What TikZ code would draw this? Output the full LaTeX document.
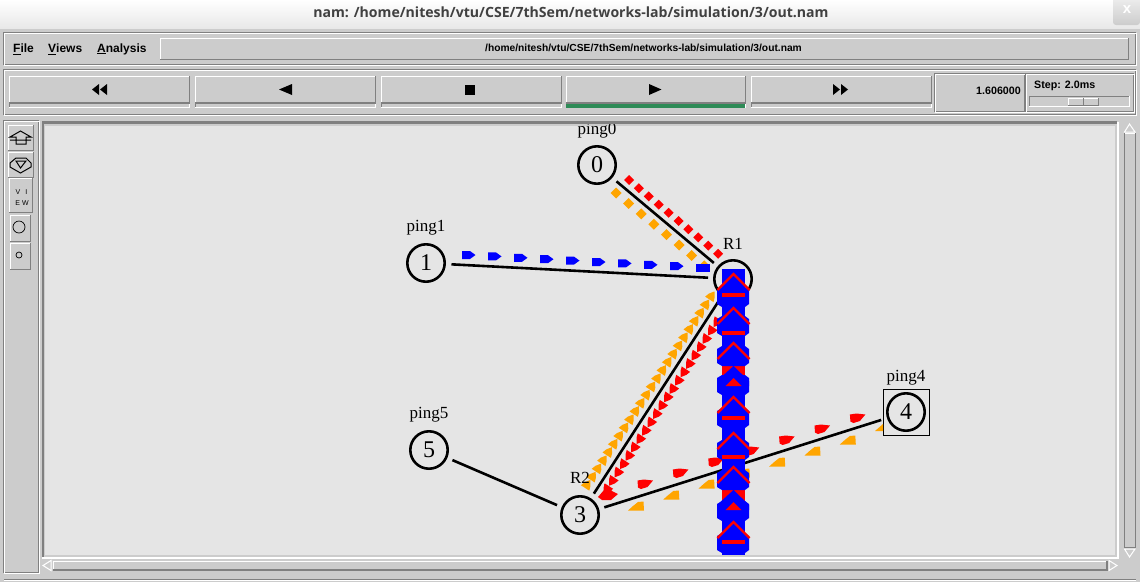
\documentclass[tikz,border=0pt]{standalone}
\usepackage{fontspec}
\setmainfont{Liberation Serif}
\newfontfamily\uifont{Liberation Sans}
\newfontfamily\titlefont{Open Sans}
\definecolor{winbg}{HTML}{CCCCCC}
\definecolor{canvasbg}{HTML}{E5E5E5}
\definecolor{edgegray}{HTML}{808080}
\definecolor{pktorange}{HTML}{FFA500}
\definecolor{playgreen}{HTML}{2E8B57}
\tikzset{
	raised/.style={draw=white, line width=1pt, fill=winbg},
	grayline/.style={draw=edgegray, line width=1pt},
	netnode/.style={circle, draw, line width=2.6pt, minimum size=37.4pt, inner sep=0pt, font=\fontsize{24}{24}\selectfont},
	netlabel/.style={font=\fontsize{17}{17}\selectfont, inner sep=0pt},
	link/.style={line width=2.6pt, shorten >=5pt, shorten <=5.5pt},
	uilabel/.style={font=\uifont\bfseries\fontsize{12}{12}\selectfont, inner sep=0pt},
	smalllabel/.style={font=\uifont\bfseries\fontsize{10.7}{10.7}\selectfont, inner sep=0pt},
	viewlabel/.style={font=\uifont\fontsize{7}{7}\selectfont, inner sep=0pt},
}
% one raised push button with its grey lower edge
\newcommand{\pushbutton}[4]{
	\draw[raised] (#1,#2) rectangle (#3,#4);
	\draw[grayline] (#1,#4) -- (#3,#4) -- (#3,#2);
}
% an etched frame, grey line with a white one inside
\newcommand{\groove}[4]{
	\draw[grayline] (#1,#2) rectangle (#3,#4);
	\draw[white, line width=1pt] (#1+1,#2+1) rectangle (#3+1,#4+1);
	\draw[grayline] (#1,#2) -- (#3,#2) (#1,#2) -- (#1,#4);
}
\newcommand{\diamondpkt}[1]{(-#1,0) -- (0,-#1) -- (#1,0) -- (0,#1) -- cycle}
\newcommand{\headpkt}{(-3.5,-5) -- (1,-3.5) -- (6,0) -- (1,3.5) -- (-3.5,5) -- cycle}
\begin{document}
\begin{tikzpicture}[x=1pt, y=-1pt]
	\useasboundingbox (0,0) rectangle (1140,582);
	\fill[winbg] (0,0) rectangle (1140,582);
	\shade[top color=white, bottom color=black!9] (0,0) rectangle (1140,28);
	\shade[top color=black!6, bottom color=black!20, rounded corners=3pt] (1113,-4) rectangle (1140,25);
	\node[font=\uifont\bfseries\fontsize{15}{15}\selectfont, text=white, inner sep=0pt] (closex) at (1127,10) {x};
	\node[font=\titlefont\bfseries\fontsize{14.1}{14.1}\selectfont, text=black!75, inner sep=0pt] (title) at (571,12) {nam: /home/nitesh/vtu/CSE/7thSem/networks-lab/simulation/3/out.nam};
	% menu row
	\groove{3}{32}{1135}{64}
	\pushbutton{160}{38}{1128}{59}
	\node[uilabel, anchor=west] (file) at (13,49) {\underline{F}ile};
	\node[uilabel, anchor=west] (views) at (48,49) {\underline{V}iews};
	\node[uilabel, anchor=west] (analysis) at (97,49) {\underline{A}nalysis};
	\node[font=\uifont\bfseries\fontsize{10.25}{10.25}\selectfont, inner sep=0pt] (path) at (643.5,48) {/home/nitesh/vtu/CSE/7thSem/networks-lab/simulation/3/out.nam};
	% transport row
	\groove{3}{69}{1135}{114}
	\foreach \bx/\ex in {9/189, 195/375, 381/561, 566/745, 751/931} {
		\pushbutton{\bx}{76}{\ex}{103}
		\draw[edgegray, line width=2pt] (\bx,103) -- (\ex,103);
		\draw[white, line width=1pt] (\bx,107) -- (\ex,107) -- (\ex,104);
		\draw[grayline] (\bx,103) -- (\bx,107);
	}
	\fill[playgreen] (566,104) rectangle (745,107.5);
	\fill (99,84) -- (99,95) -- (92,89.5) -- cycle (107,84) -- (107,95) -- (100,89.5) -- cycle;
	\fill (292,84) -- (292,95) -- (279,89.5) -- cycle;
	\fill (465,85) rectangle (475,95);
	\fill (649,84) -- (649,95) -- (661.5,89.5) -- cycle;
	\fill (833,84) -- (833,95) -- (840,89.5) -- cycle (841,84) -- (841,95) -- (848,89.5) -- cycle;
	\groove{934}{73}{1024}{111}
	\groove{1025}{73}{1133}{111}
	\node[smalllabel, anchor=east] (clock) at (1021,91) {1.606000};
	\node[smalllabel, anchor=west] (stepsize) at (1034,86) {Step: 2.0ms};
	\draw[grayline] (1029,96) -- (1029,106) (1029,96) -- (1129,96);
	\draw[white, line width=1pt] (1029,106) -- (1129,106) -- (1129,96);
	\pushbutton{1068}{98}{1098}{105}
	\draw[grayline] (1083,98) -- (1083,105);
	% left tools
	\groove{3}{120}{38}{572}
	\pushbutton{8}{125}{33}{150}
	\pushbutton{8}{152}{33}{177}
	\pushbutton{9}{178}{32}{212}
	\pushbutton{10}{215}{30}{241}
	\pushbutton{10}{243}{30}{269}
	\draw[line width=1pt] (20.5,131) -- (10,137) -- (16,137) -- (16,144) -- (26,144) -- (26,137) -- (31,137) -- cycle (10,140) -- (31,140);
	\draw[line width=1pt] (10,163) -- (16,158) -- (26,158) -- (31,163) -- (31,167) -- (20.5,173) -- (10,167) -- cycle (16,161) -- (26,161) -- (20.5,168) -- cycle;
	\node[viewlabel] (viewa) at (21.5,192) {V\hspace{5pt}I};
	\node[viewlabel] (viewb) at (22,203) {E\hspace{2pt}W};
	\draw[line width=.7pt] (19,227) circle (6);
	\draw[line width=.7pt] (19,255) circle (3);
	% canvas and scroll bars
	\fill[winbg] (44,124) rectangle (1117,557);
	\fill[canvasbg] (45,126) rectangle (1115,555);
	\draw[white, line width=1.5pt] (1118,122) -- (1118,558) -- (42,558);
	\draw[raised] (1124,133) rectangle (1135,547);
	\draw[grayline] (1124,133) -- (1124,547) -- (1135,547) -- (1135,133);
	\draw[raised] (53,561) rectangle (1107,570);
	\draw[edgegray, line width=1.5pt] (53,570) -- (1107,570) -- (1107,561);
	\draw[raised] (1129.5,124) -- (1124.5,132) -- (1135,132) -- cycle;
	\draw[raised] (1129.5,557) -- (1124.5,549) -- (1135,549) -- cycle;
	\draw[raised] (43,565.5) -- (51,560.5) -- (51,570.5) -- cycle;
	\draw[raised] (1117,565.5) -- (1109,560.5) -- (1109,570.5) -- cycle;
	\draw[grayline] (4,579) -- (1136,579);
	\draw[white, line width=1pt] (4,580) -- (1136,580);
	% network nodes
	\node[netnode] (n0) at (597,165) {0};
	\node[netnode] (n1) at (426,263) {1};
	\node[netnode] (n2) at (733,279) {};
	\node[netnode] (n3) at (580,515) {3};
	\node[netnode] (n4) at (906,412) {4};
	\node[netnode] (n5) at (429,450) {5};
	\node[draw, line width=.8pt, minimum size=46pt, inner sep=0pt] (mark4) at (906.5,412) {};
	\node[netlabel] (ping0) at (597,131) {ping0};
	\node[netlabel] (ping1) at (426,228) {ping1};
	\node[netlabel] (ping4) at (906,378) {ping4};
	\node[netlabel] (ping5) at (429,415) {ping5};
	\node[netlabel] (r1) at (733,244) {R1};
	\draw[link] (n0) -- (n2);
	\draw[link] (n1) -- (n2);
	\draw[link] (n5) -- (n3);
	\draw[link] (n3) -- (n2);
	\draw[link, shorten >=2pt] (n3) -- (mark4);
	% packets on 0-R1
	\foreach \i in {0,...,9}
		\fill[red, shift={(629+9.9*\i,180+8.2*\i)}] \diamondpkt{5};
	\foreach \i in {0,...,7}
		\fill[pktorange, shift={(616+12.6*\i,193+10.4*\i)}] \diamondpkt{5.5};
	% packets on 1-R1
	\foreach \i in {0,...,8}
		\fill[blue, shift={(468+26*\i,255+1.4*\i)}] (-6,-4) -- (2,-4) -- (7.5,0) -- (2,4) -- (-6,4) -- cycle;
	\fill[blue] (696,264) rectangle (710,272);
	% packets on R1-R2
	\foreach \i in {0,...,23}
		\fill[pktorange, shift={(587+5.4*\i,485-8.2*\i)}, rotate=57] \headpkt;
	\foreach \i in {0,...,20}
		\fill[red, shift={(607+5.5*\i,489-8.35*\i)}, rotate=237] \headpkt;
	\fill[red] (598,497) -- (604,490) -- (604,484) -- (609,487) -- (612,491) -- (618,494) -- (611,500) -- (602,500) -- cycle;
	% packets on R2-4
	\foreach \i in {0,...,6}
		\fill[red, shift={(645+35.4*\i,484-11*\i)}] (-7.5,-3.5) -- (-1,-4.5) -- (8,-3.5) -- (2.5,3) -- (-4,5) -- (-7,3.5) -- cycle;
	\foreach \i in {0,...,6}
		\fill[pktorange, shift={(636+35.3*\i,506-11*\i)}] (-8,4.5) -- (8,4.5) -- (7.5,-4.5) -- (2,-4) -- (-3,0) -- cycle;
	\fill[pktorange] (875,431) -- (883,431) -- (883,424) -- cycle;
	% the packets that queue along the vertical link
	\fill[blue] (722,269) rectangle (745,555);
	\fill[red] (722,366) rectangle (745,388);
	\fill[red] (722,490) rectangle (745,512);
	\foreach \ty in {366,490}
		\fill[blue] (733.5,\ty) -- (749,\ty+15) -- (749,\ty+20) -- (717,\ty+20) -- (717,\ty+15) -- cycle;
	\foreach \by in {297,326,356,385,418,450,480,511,543}
		\fill[blue] (722,\by-10) -- (717,\by-7) -- (717,\by+7) -- (722,\by+10) -- (745,\by+10) -- (749,\by+7) -- (749,\by-7) -- (745,\by-10) -- cycle;
	\foreach \py in {274,308,343,397,433,467,522}
		\draw[red, line width=2.2pt] (717.5,\py+16) -- (733.5,\py) -- (749.5,\py+16);
	\foreach \py in {378,502}
		\fill[red] (733.5,\py) -- (741.5,\py+8) -- (725.5,\py+8) -- cycle;
	\foreach \py in {295,333,418,457,542}
		\fill[red] (722,\py-2) rectangle (745,\py+2);
	\node[netlabel] (r2) at (580,478) {R2};
	% the canvas edge lies over the labels
	\draw[edgegray, line width=2.5pt] (43,557) -- (43,122.5) -- (1117,122.5);
\end{tikzpicture}
\end{document}
